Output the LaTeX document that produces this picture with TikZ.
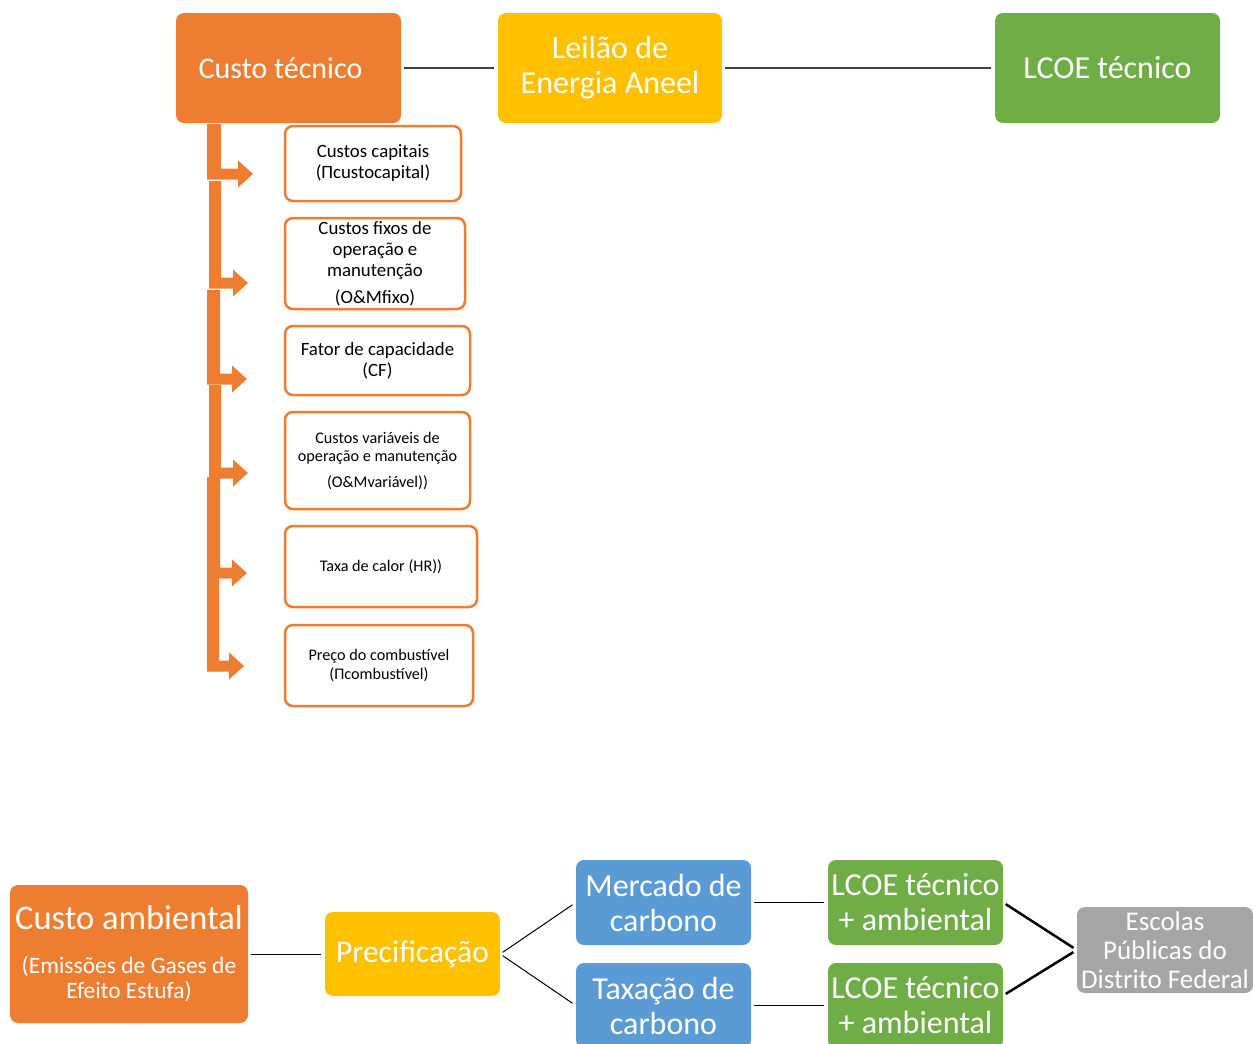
\documentclass[tikz,border=0pt]{standalone}
\usepackage{fontspec}
\setmainfont{Carlito}
\definecolor{corange}{HTML}{ED7D31}
\definecolor{cyellow}{HTML}{FFC000}
\definecolor{cgreen}{HTML}{70AD47}
\definecolor{cblue}{HTML}{5B9BD5}
\definecolor{cgray}{HTML}{A5A5A5}
\definecolor{cline}{HTML}{404040}
\newcommand\brarrow[5]{%
  \fill[corange] (#2,#1) -- (#3,#1) -- (#3,#4-5.5) -- (#5-15,#4-5.5) -- (#5-15,#4-13.5)
    -- (#5,#4) -- (#5-15,#4+13.5) -- (#5-15,#4+5.5) -- (#2,#4+5.5) -- cycle;}
\begin{document}
\begin{tikzpicture}[x=1pt,y=-1pt,
  bigbox/.style={rectangle,rounded corners=8pt,text=white,align=center,inner sep=0pt,
     font=\fontsize{32}{35}\selectfont},
  smallbox/.style={rectangle,rounded corners=8pt,draw=corange,line width=2.5pt,fill=white,
     align=center,inner sep=0pt,font=\fontsize{18.8}{21}\selectfont},
  tinytext/.style={font=\fontsize{16.2}{18.5}\selectfont},
  topline/.style={draw=cline,line width=1.5pt,shorten >=4pt,shorten <=3pt},
  thinline/.style={draw=black,line width=1pt,shorten >=4pt,shorten <=3pt},
  thickline/.style={draw=black,line width=2.5pt,shorten >=4pt,shorten <=3pt}]
\useasboundingbox (0,0) rectangle (1253,1044);
\clip (0,0) rectangle (1253,1044);
\fill[white] (0,0) rectangle (1253,1044);

% top row
\node[bigbox,fill=corange,minimum width=225pt,minimum height=110pt,font=\fontsize{30}{35}\selectfont] (ct) at (288.5,68) {Custo técnico\hspace*{16pt}};
\node[bigbox,fill=cyellow,minimum width=224pt,minimum height=110pt] (le) at (610,68) {Leilão de\\Energia Aneel};
\node[bigbox,fill=cgreen,minimum width=225pt,minimum height=110pt] (lt) at (1107.5,68) {LCOE técnico};
\draw[topline] (ct) -- (le);
\draw[topline] (le) -- (lt);

% small boxes
\node[smallbox,minimum width=176pt,minimum height=75pt] (b1) at (373,163.5) {Custos capitais\\(Πcustocapital)};
\node[smallbox,minimum width=180pt,minimum height=91pt] (b2) at (375,263.5) {Custos fixos de\\operação e\\manutenção\\[6pt](O\&Mfixo)};
\node[smallbox,minimum width=185pt,minimum height=69pt] (b3) at (377.5,360.5) {Fator de capacidade\\(CF)};
\node[smallbox,tinytext,minimum width=185pt,minimum height=97pt] (b4) at (377.5,460.5) {Custos variáveis de\\operação e manutenção\\[7pt](O\&Mvariável))};
\node[smallbox,tinytext,minimum width=192pt,minimum height=81pt] (b5) at (381,566.5) {Taxa de calor (HR))};
\node[smallbox,tinytext,minimum width=188pt,minimum height=81pt] (b6) at (379,665.5) {Preço do combustível\\(Πcombustível)};

% bracket arrows
\brarrow{124}{207}{221}{174}{253}
\brarrow{181}{209}{221}{283}{248}
\brarrow{290}{207}{220}{379}{247}
\brarrow{385}{209}{221}{473}{248}
\brarrow{477}{207}{220}{573}{247}
\brarrow{575}{207}{219}{666}{244}

% bottom row
\node[bigbox,fill=corange,minimum width=238pt,minimum height=138pt,font=\fontsize{23.5}{25}\selectfont] (ca) at (129,954)
  {{\fontsize{34.5}{38}\selectfont Custo ambiental}\\[19pt](Emissões de Gases de\\Efeito Estufa)};
\node[bigbox,fill=cyellow,minimum width=175pt,minimum height=84pt,font=\fontsize{31.5}{35}\selectfont] (pr) at (412.5,954) {Precificação};
\node[bigbox,fill=cblue,minimum width=175pt,minimum height=85pt] (mc) at (663.5,902.5) {Mercado de\\carbono};
\node[bigbox,fill=cblue,minimum width=175pt,minimum height=85pt] (tc) at (663.5,1005.5) {Taxação de\\carbono};
\node[bigbox,fill=cgreen,minimum width=175pt,minimum height=85pt] (l1) at (915.5,902.5) {LCOE técnico\\+ ambiental};
\node[bigbox,fill=cgreen,minimum width=175pt,minimum height=85pt] (l2) at (915.5,1005.5) {LCOE técnico\\+ ambiental};
\node[bigbox,fill=cgray,minimum width=176pt,minimum height=86pt,font=\fontsize{27}{29}\selectfont] (es) at (1165,950) {Escolas\\Públicas do\\Distrito Federal};

\draw[thinline] (ca) -- (pr);
\draw[thinline] (pr.east) -- (mc.west);
\draw[thinline] (pr.east) -- (tc.west);
\draw[thinline] (mc.east) -- (l1.west);
\draw[thinline] (tc.east) -- (l2.west);
\draw[thickline] (l1.east) -- (es.west);
\draw[thickline] ([yshift=10pt]l2.east) -- (es.west);
\end{tikzpicture}
\end{document}
